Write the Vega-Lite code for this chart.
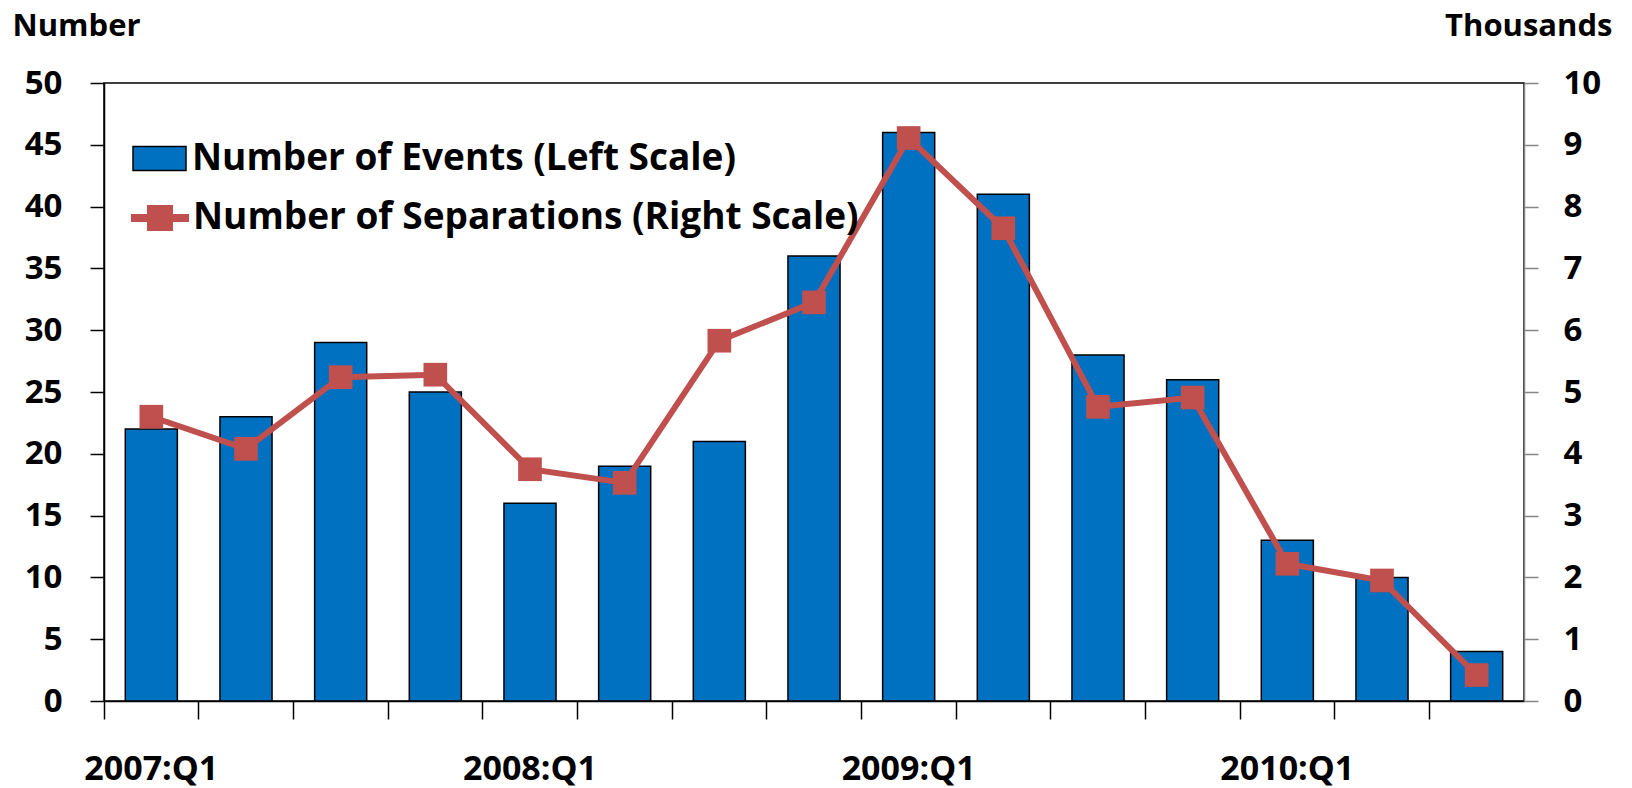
{
  "$schema": "https://vega.github.io/schema/vega-lite/v6.json",
  "width": 1420,
  "height": 618,
  "autosize": {"type": "none"},
  "padding": {"left": 104, "top": 83, "right": 108, "bottom": 87},
  "background": "white",
  "config": {
    "font": "Open Sans",
    "view": {"stroke": "black", "strokeWidth": 1.5},
    "axis": {
      "labelFont": "Open Sans", "labelFontWeight": "bold", "labelFontSize": 33, "labelColor": "black",
      "titleFont": "Open Sans", "titleFontWeight": "bold", "titleFontSize": 31, "titleColor": "black",
      "grid": false
    },
    "legend": {
      "labelFont": "Open Sans", "labelFontSize": 37, "labelFontWeight": "bold", "labelColor": "black",
      "padding": 0, "symbolOffset": 0, "titlePadding": 0, "labelLimit": 1000
    }
  },
  "data": {
    "values": [
      {"quarter": "2007:Q1", "events": 22, "separations": 4.6},
      {"quarter": "2007:Q2", "events": 23, "separations": 4.08},
      {"quarter": "2007:Q3", "events": 29, "separations": 5.24},
      {"quarter": "2007:Q4", "events": 25, "separations": 5.28},
      {"quarter": "2008:Q1", "events": 16, "separations": 3.75},
      {"quarter": "2008:Q2", "events": 19, "separations": 3.53},
      {"quarter": "2008:Q3", "events": 21, "separations": 5.83},
      {"quarter": "2008:Q4", "events": 36, "separations": 6.45},
      {"quarter": "2009:Q1", "events": 46, "separations": 9.11},
      {"quarter": "2009:Q2", "events": 41, "separations": 7.65},
      {"quarter": "2009:Q3", "events": 28, "separations": 4.76},
      {"quarter": "2009:Q4", "events": 26, "separations": 4.91},
      {"quarter": "2010:Q1", "events": 13, "separations": 2.22},
      {"quarter": "2010:Q2", "events": 10, "separations": 1.95},
      {"quarter": "2010:Q3", "events": 4, "separations": 0.42}
    ]
  },
  "encoding": {
    "x": {
      "field": "quarter", "type": "ordinal", "sort": null,
      "scale": {"paddingInner": 0, "paddingOuter": 0},
      "axis": {
        "title": null, "labelAngle": 0, "bandPosition": 0,
        "tickSize": 18, "tickColor": "black", "labelFontSize": 34,
        "tickWidth": 1.5, "domainColor": "black", "domainWidth": 1.5, "labelPadding": 33,
        "labelExpr": "indexof(datum.value, 'Q1') >= 0 ? datum.value : ''"
      }
    }
  },
  "layer": [
    {
      "mark": {"type": "bar", "stroke": "black", "strokeWidth": 1.5, "width": {"band": 0.55}},
      "encoding": {
        "y": {
          "field": "events", "type": "quantitative", "scale": {"domain": [0, 50]},
          "axis": {
            "values": [0, 5, 10, 15, 20, 25, 30, 35, 40, 45, 50], "tickSize": 14, "tickColor": "black",
            "tickWidth": 1.5, "domainColor": "black", "domainWidth": 1.5, "labelPadding": 28,
            "title": "Number", "titleAngle": 0, "titleAlign": "left", "titleBaseline": "middle",
            "titleX": -92, "titleY": -57
          }
        },
        "fill": {
          "datum": "Number of Events (Left Scale)", "type": "nominal",
          "scale": {"range": ["#0070C0"]},
          "legend": {
            "title": null, "orient": "none", "legendX": 28, "legendY": 48, "labelOffset": 5,
            "symbolType": "M-1,-0.45H1V0.45H-1Z", "symbolSize": 2809,
            "symbolStrokeColor": "black", "symbolStrokeWidth": 1.5
          }
        }
      }
    },
    {
      "mark": {"type": "line", "strokeWidth": 6,
               "point": {"shape": "square", "filled": true, "size": 560, "fill": "#C0504D", "strokeWidth": 0}},
      "encoding": {
        "y": {
          "field": "separations", "type": "quantitative", "scale": {"domain": [0, 10]},
          "axis": {
            "orient": "right", "values": [0, 1, 2, 3, 4, 5, 6, 7, 8, 9, 10], "tickSize": 14,
            "tickColor": "#868686", "tickWidth": 1.5, "domainColor": "#868686", "domainWidth": 1.5,
            "labelPadding": 25, "title": "Thousands", "titleAngle": 0, "titleAlign": "right",
            "titleBaseline": "middle", "titleX": 88, "titleY": -57
          }
        },
        "stroke": {
          "datum": "Number of Separations (Right Scale)", "type": "nominal",
          "scale": {"range": ["#C0504D"]},
          "legend": {
            "title": null, "orient": "none", "legendX": 23, "legendY": 102, "labelOffset": 0,
            "symbolType": "M-1,0H1M-0.31,-0.31H0.31V0.31H-0.31Z", "symbolSize": 3364,
            "symbolFillColor": "#C0504D", "symbolStrokeColor": "#C0504D", "symbolStrokeWidth": 8
          }
        }
      }
    }
  ],
  "resolve": {"scale": {"y": "independent"}}
}
